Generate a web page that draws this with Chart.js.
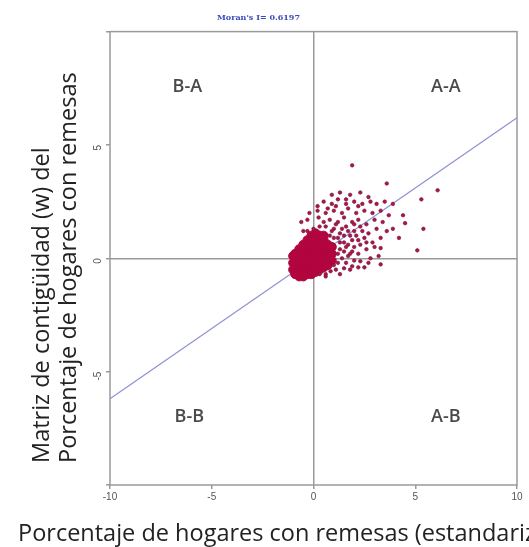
<!DOCTYPE html>
<html>
<head>
<meta charset="utf-8">
<script src="https://cdn.jsdelivr.net/npm/chart.js@4"></script>
<style>
  html, body { margin: 0; padding: 0; background: #fff; }
  #wrap { width: 529px; height: 547px; }
</style>
</head>
<body>
<div id="wrap"><canvas id="myChart"></canvas></div>
<script>
// Moran scatter: standardized % of households with remittances vs its spatial lag
const moranI = 0.6197;
const axisTicks = [-10, -5, 0, 5, 10];
const xTitle = 'Porcentaje de hogares con remesas (estandarizado)';
const yTitle = ['Matriz de contigüidad (w) del', 'Porcentaje de hogares con remesas'];

// dense cluster near the origin
const corePoints = [
  [-1.0,-0.5],[-1.0,-0.2],[-1.0,0.1],
  [-0.9,-0.7],[-0.9,-0.4],[-0.9,-0.1],[-0.9,0.2],
  [-0.7,-0.8],[-0.7,-0.5],[-0.7,-0.2],[-0.7,0.1],[-0.7,0.4],
  [-0.5,-0.8],[-0.5,-0.5],[-0.5,-0.2],[-0.5,0.1],[-0.5,0.4],[-0.5,0.6],
  [-0.3,-0.7],[-0.3,-0.4],[-0.3,-0.1],[-0.3,0.2],[-0.3,0.5],[-0.3,0.8],
  [-0.1,-0.7],[-0.1,-0.4],[-0.1,-0.1],[-0.1,0.2],[-0.1,0.5],[-0.1,0.8],[-0.1,1.0],
  [0.1,-0.6],[0.1,-0.3],[0.1,0.0],[0.1,0.3],[0.1,0.6],[0.1,0.9],[0.1,1.1],
  [0.3,-0.5],[0.3,-0.2],[0.3,0.1],[0.3,0.4],[0.3,0.7],[0.3,1.0],
  [0.5,-0.4],[0.5,-0.1],[0.5,0.2],[0.5,0.5],[0.5,0.8],[0.5,1.0],
  [0.7,-0.3],[0.7,0.0],[0.7,0.3],[0.7,0.6],
  [0.9,-0.1],[0.9,0.2],[0.9,0.5]
];

// scattered municipalities around the cluster
const spreadPoints = [
  [0.9,2.8],[1.3,2.9],[1.8,2.8],[2.3,2.9],[2.7,2.7],
  [0.2,2.3],[0.5,2.5],[0.9,2.4],[1.2,2.6],[1.6,2.4],[2.0,2.5],[2.4,2.4],[2.8,2.5],[3.1,2.4],[3.5,2.5],[3.9,2.4],
  [-0.2,2.0],[0.2,2.1],[0.6,2.0],[1.0,2.1],[1.4,2.0],[1.7,2.2],[2.1,2.0],[2.5,2.1],[2.9,2.0],[3.3,2.1],[3.7,1.9],[4.4,1.9],
  [-0.6,1.6],[-0.3,1.7],[0.25,1.8],[0.5,1.6],[0.8,1.7],[1.2,1.6],[1.5,1.8],[1.9,1.6],[2.2,1.7],[2.6,1.5],[3.0,1.7],[3.4,1.6],[4.5,1.55],
  [-0.5,1.2],[-0.3,1.2],[1.0,1.3],[1.3,1.1],[1.6,1.4],[2.0,1.2],[2.3,1.4],[2.7,1.1],[3.1,1.3],[3.6,1.2],[3.9,1.3],
  [1.2,0.9],[1.5,0.7],[1.8,1.0],[2.2,0.8],[2.5,0.9],[2.9,0.7],[3.3,0.9],[4.2,0.9],
  [1.3,0.4],[1.6,0.5],[1.9,0.3],[2.3,0.6],[2.6,0.4],[3.0,0.5],[3.3,0.45],
  [1.4,0.0],[1.7,0.1],[2.0,-0.1],[2.3,-0.13],[2.8,0.0],[3.2,0.1],
  [0.3,-0.7],[0.6,-0.8],[0.84,-0.57],[1.1,-0.5],[1.5,-0.44],[1.9,-0.35],[2.5,-0.4],[3.3,-0.27],
  [0.9,1.2],[1.0,0.9],[1.1,1.5],[1.2,0.2],[1.2,-0.2],[1.3,0.7],[1.4,1.3],[1.5,0.3],[1.5,1.0],
  [1.6,-0.2],[1.7,0.6],[1.7,1.2],[1.8,-0.5],[1.8,0.2],[1.9,0.8],[2.0,1.5],[2.0,0.5],[2.1,1.0],
  [2.2,0.2],[2.2,-0.4],[0.6,1.4],[0.8,1.0],[0.3,1.4],[0.0,1.3],[0.6,-0.7],[1.0,-0.3],[1.3,-0.7],
  [2.4,1.2],[2.6,0.7],[2.7,-0.2],[1.1,2.3],[0.7,2.2],[1.6,2.6],[2.2,2.3],
  [1.9,4.1],[3.6,3.3],[6.1,3.0],[5.3,2.6],[5.4,1.3],[5.1,0.35]
];

const fitLine = [[-10, -10 * moranI], [10, 10 * moranI]];

const quadrantNames = ['B-A', 'A-A', 'B-B', 'A-B'];
const quadrantX = [-6.2, 6.5, -6.1, 6.5];
const quadrantY = [7.55, 7.55, -7.0, -7.0];

const toXY = arr => arr.map(p => ({ x: p[0], y: p[1] }));

const extras = {
  id: 'extras',
  beforeDatasetsDraw(chart) {
    const { ctx, chartArea: a, scales } = chart;
    ctx.save();
    ctx.strokeStyle = '#9a9a9a';
    ctx.lineWidth = 1.5;
    ctx.strokeRect(a.left, a.top, a.right - a.left, a.bottom - a.top);
    ctx.fillStyle = '#4a4a4a';
    ctx.font = '600 18px "Open Sans", sans-serif';
    ctx.textAlign = 'center';
    ctx.textBaseline = 'middle';
    quadrantNames.forEach((q, i) => {
      ctx.fillText(q, scales.x.getPixelForValue(quadrantX[i]), scales.y.getPixelForValue(quadrantY[i]));
    });
    ctx.restore();
  },
  afterDraw(chart) {
    // axis titles: y lines share a bottom start, x runs past the right edge as in the original
    const { ctx } = chart;
    ctx.save();
    ctx.fillStyle = '#222';
    ctx.font = '23.5px "Open Sans", sans-serif';
    ctx.textAlign = 'left';
    ctx.textBaseline = 'alphabetic';
    ctx.fillText(xTitle, 18, 541);
    ctx.translate(0, 463);
    ctx.rotate(-Math.PI / 2);
    ctx.textBaseline = 'middle';
    ctx.fillText(yTitle[0], 0, 42);
    ctx.fillText(yTitle[1], 0, 69);
    ctx.restore();
  }
};

const chartContext = document.getElementById('myChart').getContext('2d');
const myChart = new Chart(chartContext, {
  type: 'scatter',
  data: {
    datasets: [
      {
        type: 'line',
        data: toXY(fitLine),
        borderColor: '#8e92d4',
        borderWidth: 1.2,
        pointRadius: 0,
        order: 3
      },
      {
        data: toXY(corePoints),
        backgroundColor: '#b2053f',
        borderColor: '#b2053f',
        pointRadius: 4.5,
        order: 2
      },
      {
        data: toXY(spreadPoints),
        backgroundColor: '#b0124a',
        borderColor: '#6e1a3a',
        borderWidth: 0.6,
        pointRadius: 1.8,
        order: 1
      }
    ]
  },
  plugins: [extras],
  options: {
    responsive: true,
    maintainAspectRatio: false,
    animation: false,
    layout: { padding: { right: 12 } },
    plugins: {
      legend: { display: false },
      tooltip: { enabled: false },
      title: {
        display: true,
        text: "Moran's I= " + moranI,
        color: '#3a4ab8',
        font: { family: 'DejaVu Serif', size: 8 },
        padding: { top: 13, bottom: 9 }
      }
    },
    scales: {
      x: {
        type: 'linear',
        min: -10,
        max: 10,
        afterBuildTicks: s => { s.ticks = axisTicks.map(v => ({ value: v })); },
        border: { display: false },
        grid: {
          color: c => c.tick && c.tick.value === 0 ? '#9a9a9a' : 'transparent',
          lineWidth: 1.5,
          tickColor: '#9a9a9a',
          tickLength: 4
        },
        ticks: { color: '#555', font: { size: 10 }, padding: 2, maxRotation: 0 },
        afterFit: s => { s.height = 62; }
      },
      y: {
        type: 'linear',
        min: -10,
        max: 10,
        afterBuildTicks: s => { s.ticks = axisTicks.map(v => ({ value: v })); },
        border: { display: false },
        grid: {
          color: c => c.tick && c.tick.value === 0 ? '#9a9a9a' : 'transparent',
          lineWidth: 1.5,
          tickColor: '#9a9a9a',
          tickLength: 4
        },
        ticks: {
          color: '#555',
          font: { size: 10 },
          padding: 8,
          minRotation: 90,
          maxRotation: 90,
          callback: v => (Math.abs(v) === 10 ? '' : v)
        },
        afterFit: s => { s.width = 110; }
      }
    }
  }
});
</script>
</body>
</html>
